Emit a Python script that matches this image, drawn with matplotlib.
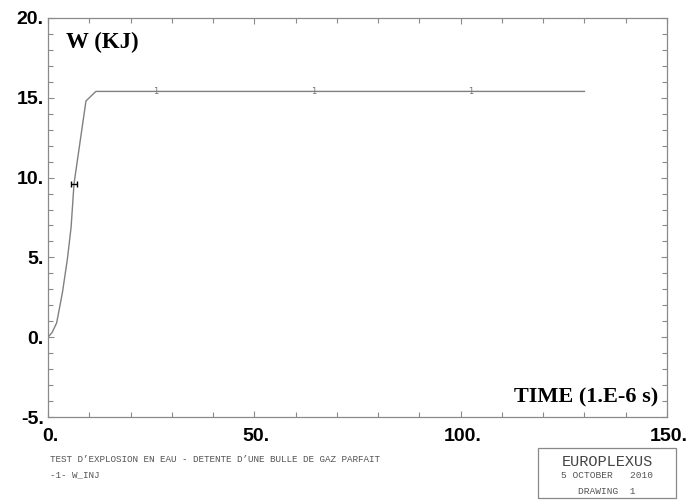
import matplotlib
matplotlib.use("Agg")
import matplotlib.pyplot as plt
import matplotlib.transforms as mtransforms
from matplotlib.ticker import MultipleLocator

# Data
time_us = [0.0, 1.0, 2.1, 3.5, 4.7, 5.6, 6.3, 7.3, 9.2, 11.6, 130.0]
w_kj = [0.0, 0.3, 0.9, 2.8, 4.9, 6.9, 9.6, 11.4, 14.8, 15.4, 15.4]
err_t = [6.3]
err_w = [9.6]
label_t = [26.0, 64.4, 102.4]
label_w = [15.4, 15.4, 15.4]
x_ticks = [0, 50, 100, 150]
x_tick_labels = ["0.", "50.", "100.", "150."]
y_ticks = [-5, 0, 5, 10, 15, 20]
y_tick_labels = ["-5.", "0.", "5.", "10.", "15.", "20."]

fig = plt.figure(figsize=(6.87, 5.0), dpi=100)
ax = fig.add_axes([48/687, 83/500, (667-48)/687, (417-18)/500])

gray = "#8a8a8a"
ax.plot(time_us, w_kj, color="#808080", lw=1.0)
ax.errorbar(err_t, err_w, xerr=0.7, fmt="none", ecolor="black", elinewidth=1.0,
            capsize=2.5, capthick=1.0)
for t, w in zip(label_t, label_w):
    ax.text(t, w, "1", fontsize=6, color="#777777", ha="center", va="center",
            family="DejaVu Sans")

ax.set_xlim(0, 150)
ax.set_ylim(-5, 20)
ax.set_xticks(x_ticks)
ax.set_xticklabels(x_tick_labels)
ax.set_yticks(y_ticks)
ax.set_yticklabels(y_tick_labels)
ax.xaxis.set_minor_locator(MultipleLocator(10))
ax.yaxis.set_minor_locator(MultipleLocator(1))

for sp in ax.spines.values():
    sp.set_color(gray)
    sp.set_linewidth(0.9)

ax.tick_params(which="both", direction="in", top=True, right=True,
               color=gray, width=0.8)
ax.tick_params(which="major", length=4)
ax.tick_params(which="minor", length=3.5)
ax.tick_params(axis="x", which="major", pad=8)
ax.tick_params(axis="y", which="major", pad=3)

for lab in ax.get_xticklabels() + ax.get_yticklabels():
    lab.set_fontfamily("Liberation Sans")
    lab.set_fontweight("bold")
    lab.set_fontsize(14)
    lab.set_color("black")

offset = mtransforms.ScaledTranslation(2/100, 0, fig.dpi_scale_trans)
for lab in ax.xaxis.get_majorticklabels():
    lab.set_transform(lab.get_transform() + offset)

# Axis titles inside the plot
fig.text(66/687, 1 - 42/500, "W (KJ)", fontsize=16.5, fontweight="bold",
         family="Liberation Serif", ha="left", va="center")
fig.text(658/687, 1 - 397/500, "TIME (1.E-6 s)", fontsize=16, fontweight="bold",
         family="Liberation Serif", ha="right", va="center")

# Footer texts
fig.text(50/687, 1 - 459/500,
         "TEST D\u2019EXPLOSION EN EAU - DETENTE D\u2019UNE BULLE DE GAZ PARFAIT",
         fontsize=6.7, family="Liberation Mono", color="#555555",
         ha="left", va="center")
fig.text(50/687, 1 - 475/500, "-1- W_INJ", fontsize=6.7, family="Liberation Mono",
         color="#555555", ha="left", va="center")

# Box at bottom right
box = plt.Rectangle((538/687, 1 - 498/500), (676-538)/687, (498-448)/500,
                    transform=fig.transFigure, fill=False, edgecolor="#888888", lw=0.9)
fig.add_artist(box)
cx = 607/687
fig.text(cx, 1 - 462/500, "EUROPLEXUS", fontsize=11, family="Liberation Mono",
         color="#444444", ha="center", va="center")
fig.text(cx, 1 - 476/500, "5 OCTOBER   2010", fontsize=6.8, family="Liberation Mono",
         color="#555555", ha="center", va="center")
fig.text(cx, 1 - 491/500, "DRAWING  1", fontsize=6.8, family="Liberation Mono",
         color="#555555", ha="center", va="center")

fig.savefig("out.png", dpi=100)
